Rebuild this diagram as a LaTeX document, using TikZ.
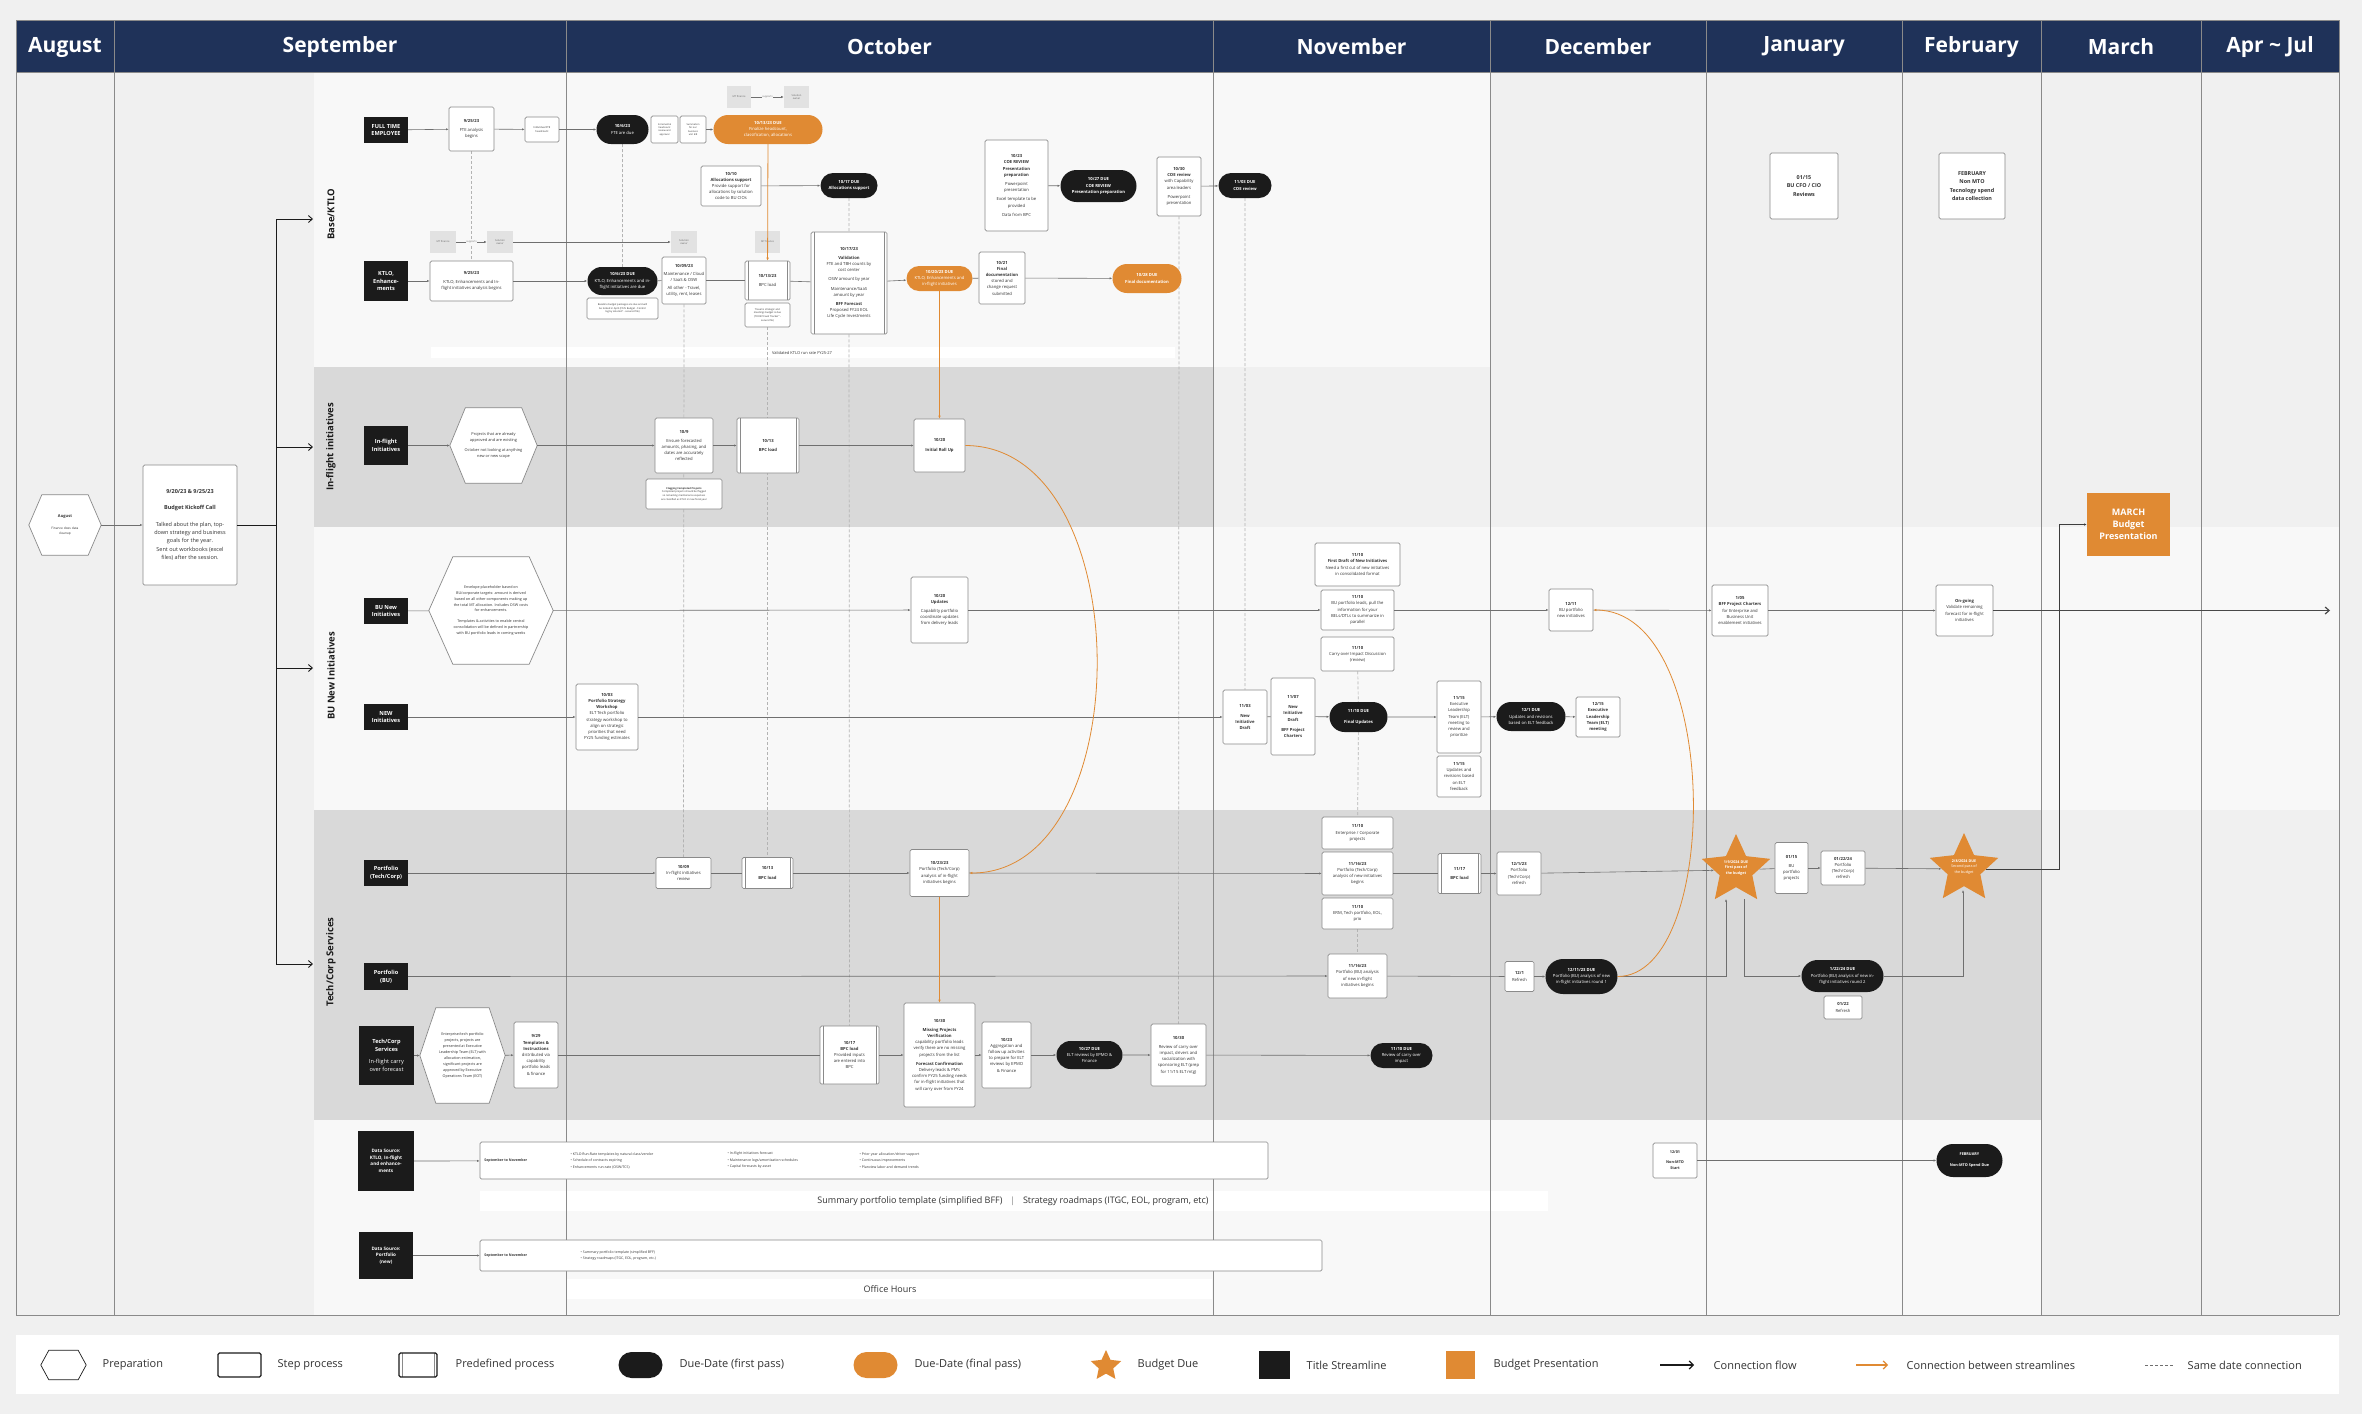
\documentclass[tikz,border=0pt]{standalone}
\usepackage{fontspec}
\setmainfont{Open Sans}
\setsansfont{Open Sans}
\usepackage{tikz}
\usetikzlibrary{arrows.meta,positioning,shapes.geometric,shapes.misc,calc,backgrounds}
\definecolor{navy}{HTML}{1F3259}
\definecolor{ink}{HTML}{1B1B1B}
\definecolor{amber}{HTML}{E08A33}
\definecolor{lineg}{HTML}{6F6F6F}
\definecolor{dashg}{HTML}{B3B3B3}
\definecolor{bgpage}{HTML}{F0F0F0}
\definecolor{bandlt}{HTML}{F8F8F8}
\definecolor{banddk}{HTML}{D9D9D9}
\definecolor{boxline}{HTML}{8A8A8A}
\definecolor{tagfill}{HTML}{E2E2E2}
\definecolor{txt}{HTML}{333333}
\pgfdeclarelayer{behind}
\pgfsetlayers{background,behind,main}
% hexagon round a named node: node name, chamfer
\newcommand\prephex[3][boxline]{%
  \draw[#1, line width=0.7pt, fill=white] (#2.west) -- ([xshift=#3]#2.north west)
    -- ([xshift=-#3]#2.north east) -- (#2.east) -- ([xshift=-#3]#2.south east)
    -- ([xshift=#3]#2.south west) -- cycle;}

\begin{document}
\begin{tikzpicture}[x=1pt, y=-1pt,
  every node/.style={inner sep=0.5pt, text=txt},
  wh/.style 2 args={minimum width=#1, minimum height=#2},
  bodyfont/.style={font=\fontsize{4.2}{6.2}\selectfont},
  stepbox/.style={rectangle, rounded corners=1.5pt, draw=boxline, line width=0.7pt,
    fill=white, align=center, bodyfont},
  predef/.style={stepbox, path picture={
    \draw[boxline, line width=0.6pt]
      ([xshift=3pt]path picture bounding box.north west) -- ([xshift=3pt]path picture bounding box.south west)
      ([xshift=-3pt]path picture bounding box.north east) -- ([xshift=-3pt]path picture bounding box.south east);}},
  notebox/.style={stepbox, font=\fontsize{2.5}{3.6}\selectfont},
  duepill/.style={rounded rectangle, fill=ink, text=white, align=center, bodyfont},
  finalpill/.style={rounded rectangle, fill=amber, text=white, align=center, bodyfont},
  titlebox/.style={rectangle, fill=ink, text=white, align=center,
    font=\bfseries\fontsize{5.6}{7.6}\selectfont},
  tagbox/.style={rectangle, fill=tagfill, text=txt!75, align=center,
    font=\fontsize{2.5}{3.6}\selectfont},
  prep/.style={rectangle, align=center, font=\fontsize{3.9}{6}\selectfont},
  budgetstar/.style={star, star points=5, star point ratio=2.1, fill=amber, inner sep=0pt},
  startext/.style={text=white, align=center, font=\bfseries\fontsize{3.7}{5.4}\selectfont},
  budgetbox/.style={rectangle, fill=amber, text=white, align=center,
    font=\bfseries\fontsize{9}{12}\selectfont},
  monthhdr/.style={text=white, font=\bfseries\fontsize{21}{24}\selectfont},
  lanelbl/.style={text=ink, font=\bfseries\fontsize{9.5}{11}\selectfont},
  supp/.style={fill=bandlt, text=txt!70, font=\fontsize{2.5}{3}\selectfont, inner sep=0.5pt},
  strip/.style={fill=white, font=\fontsize{9}{11}\selectfont},
  dslist/.style={align=left, font=\fontsize{3.5}{6.5}\selectfont},
  lgtext/.style={anchor=west, font=\fontsize{11}{13}\selectfont},
  colline/.style={draw=boxline, line width=0.8pt},
  flow/.style={draw=lineg, line width=0.6pt, -{Latex[length=2.6pt,width=2.2pt]}},
  link/.style={draw=lineg, line width=0.6pt},
  branch/.style={draw=ink, line width=0.9pt, -{Straight Barb[length=4pt,width=7pt]}},
  xlink/.style={draw=amber, line width=0.8pt, -{Latex[length=3pt,width=2.6pt]}},
  samedate/.style={draw=dashg, line width=0.7pt, dash pattern=on 3pt off 2pt},
]
\useasboundingbox (0,0) rectangle (2362,1414);

% lanes, month columns, legend panel
\begin{pgfonlayer}{background}
\fill[bgpage] (0,0) rectangle (2362,1414);
\fill[bandlt] (314,72) rectangle (1490,367);
\fill[banddk] (314,367) rectangle (1213,527);
\fill[bandlt] (314,527) rectangle (2339,810);
\fill[banddk] (314,810) rectangle (2041,1120);
\fill[bandlt] (314,1120) rectangle (2041,1315);
\fill[navy] (16,20) rectangle (2339,72);
\fill[white] (431,347) rectangle (1175,358);
\fill[white] (480,1191) rectangle (1548,1211);
\fill[white] (567,1279) rectangle (1212,1299);
\foreach \x in {16,114,566,1213,1490,1706,1902,2041,2201,2339}
  \draw[colline] (\x,20) -- (\x,1315);
\draw[colline] (16,20) -- (2339,20) (16,72) -- (2339,72) (16,1315) -- (2339,1315);
\fill[white] (16,1335) rectangle (2339,1394);
\end{pgfonlayer}

\foreach \x/\m [count=\i] in {65/August, 340/September, 889.5/October, 1351.5/November,
  1598/December, 1804/January, 1971.5/February, 2121/March, 2270/Apr \textasciitilde\ Jul}
  \node[monthhdr] (month\i) at (\x,47) {\m};

\node[lanelbl, rotate=90] (laneKTLO) at (331,214) {Base/KTLO};
\node[lanelbl, rotate=90] (laneIF) at (331,447) {In-flight initiatives};
\node[lanelbl, rotate=90] (laneBU) at (331,676) {BU New Initiatives};
\node[lanelbl, rotate=90] (laneTC) at (331,962) {Tech/Corp Services};

% kickoff
\node[prep, wh={72}{60}, font=\fontsize{3.2}{5.6}\selectfont] (aug) at (65,525) {\textbf{\fontsize{4}{5}\selectfont August}\\[6pt]Finance does data\\cleanup};
\node[stepbox, wh={94}{120}, font=\fontsize{5.5}{8.4}\selectfont] (kickoff) at (190,525)
  {\textbf{9/20/23 \& 9/25/23}\\[8pt]\textbf{Budget Kickoff Call}\\[8pt]Talked about the plan, top-\\down strategy and business\\goals for the year.\\Sent out workbooks (excel\\files) after the session.};
\coordinate (fork) at (276,525);
\coordinate (toKTLO) at (313,219);
\coordinate (toIF) at (313,447);
\coordinate (toBU) at (313,668);
\coordinate (toTC) at (313,964);

% FTE row
\node[titlebox, wh={44}{26}] (fte0) at (386,130) {FULL TIME\\EMPLOYEE};
\node[stepbox, wh={45}{44}] (fte1) at (471.5,129) {\textbf{9/25/23}\\[3pt]FTE analysis\\begins};
\node[stepbox, wh={34}{25}, font=\fontsize{2.6}{3.6}\selectfont] (fte2) at (542,129.5) {Individual FTE\\headcount};
\node[duepill, wh={53}{29}] (fte3) at (622.5,129.5) {\textbf{10/6/23}\\FTE are due};
\node[stepbox, wh={27}{27}, font=\fontsize{2.4}{3.4}\selectfont] (fte4) at (664.5,129.5) {Incremental\\headcount\\review and\\approval};
\node[stepbox, wh={26}{27}, font=\fontsize{2.4}{3.4}\selectfont] (fte5) at (693,129.5) {Summation\\for our\\business\\unit EIR};
\node[finalpill, wh={110}{29}] (fte6) at (768,129.5) {\textbf{10/13/23 DUE}\\Finalize headcount,\\classification, allocations};
\node[tagbox, wh={24}{22}] (mtf1) at (739,97) {MT finance};
\node[tagbox, wh={25}{22}] (sol1) at (796.5,97) {Solution\\owner};
\node[stepbox, wh={60}{40}] (alloc) at (731,186) {\textbf{10/10}\\\textbf{Allocations support}\\Provide support for\\allocations by solution\\code to BU CIOs};
\node[duepill, wh={58}{25}] (allocdue) at (849,185.5) {\textbf{10/17 DUE}\\\textbf{Allocations support}};
\node[stepbox, wh={63}{91}] (coe1) at (1016.5,185.5) {\textbf{10/23}\\\textbf{COE REVIEW}\\\textbf{Presentation}\\\textbf{preparation}\\[3pt]Powerpoint\\presentation\\[3pt]Excel template to be\\provided\\[3pt]Data from BPC};
\node[duepill, wh={77}{32}] (coedue) at (1098.5,186) {\textbf{10/27 DUE}\\\textbf{COE REVIEW}\\\textbf{Presentation preparation}};
\node[stepbox, wh={44}{59}] (coe2) at (1179,186.5) {\textbf{10/30}\\\textbf{COE review}\\with Capability\\area leaders\\[3pt]Powerpoint\\presentation};
\node[duepill, wh={54}{25}] (coe3) at (1245,185.5) {\textbf{11/03 DUE}\\\textbf{COE review}};

% KTLO row
\node[titlebox, wh={44}{40}] (kt0) at (386,281) {KTLO,\\Enhance-\\ments};
\node[tagbox, wh={26}{22}] (mtf2) at (443,242) {MT finance};
\node[tagbox, wh={26}{22}] (sol2) at (500,242) {Solution\\owner};
\node[tagbox, wh={26}{22}] (sol3) at (684,242) {Solution\\owner};
\node[tagbox, wh={25}{22}] (mtf3) at (767.5,242) {MT finance};
\node[stepbox, wh={83}{40}] (kt1) at (471.5,281) {\textbf{9/25/23}\\[3pt]KTLO, Enhancements and In-\\flight initiatives analysis begins};
\node[duepill, wh={71}{28}] (kt2) at (622.5,281) {\textbf{10/6/23 DUE}\\KTLO, Enhancements and in-\\flight initiatives are due};
\node[notebox, wh={71}{21}] (kt2n) at (622.5,308.5) {Baseline budget packages are due and will\\be locked in April (FY25 Budget - Control\\log by solution" - secured file)};
\node[stepbox, wh={44}{47}] (kt3) at (684,280.5) {\textbf{10/09/23}\\[2pt]Maintenance / Cloud\\/ SaaS \& OSW\\[2pt]All other - Travel,\\utility, rent, leases};
\node[predef, wh={45}{39}] (kt4) at (767.5,280.5) {\textbf{10/13/23}\\[3pt]BPC load};
\node[notebox, wh={45}{24}] (kt4n) at (767.5,315) {Travel is strategic and\\meetings budget is due\\(TOOB Travel Tracker" -\\secure file)};
\node[predef, wh={76}{102}] (kt5) at (849,283) {\textbf{10/17/23}\\[3pt]\textbf{Validation}\\FTE and TBH counts by\\cost center\\[3pt]OSW amount by year\\[3pt]Maintenance/SaaS\\amount by year\\[3pt]\textbf{BFF Forecast}\\Proposed FY24 EOL\\Life Cycle Investments};
\node[finalpill, wh={67}{25}] (kt6) at (939.5,278.5) {\textbf{10/20/23 DUE}\\KTLO, Enhancements and\\in-flight initiatives};
\node[stepbox, wh={46}{52}] (kt7) at (1002,278) {\textbf{10/21}\\\textbf{Final}\\\textbf{documentation}\\stored and\\change request\\submitted};
\node[finalpill, wh={70}{29}] (kt8) at (1147,278.5) {\textbf{10/28 DUE}\\\textbf{Final documentation}};
\node[font=\fontsize{4}{5}\selectfont] (ktlorate) at (802,352.5) {Validated KTLO run rate FY25-27};

% in-flight row
\node[titlebox, wh={44}{39}] (if0) at (386,445.5) {In-flight\\Initiatives};
\node[prep, wh={87}{75}] (if1) at (493.5,445.5) {Projects that are already\\approved and are existing\\[4pt]October not looking at anything\\new or new scope};
\node[stepbox, wh={58}{55}] (if2) at (684,445.5) {\textbf{10/9}\\[3pt]Ensure forecasted\\amounts, phasing, and\\dates are accurately\\reflected};
\node[notebox, wh={76}{30}] (if2n) at (684,494) {\textbf{Flagging Completed Projects}\\Completed projects should be flagged\\so remaining maintenance expenses\\are classified as KTLO in new fiscal year};
\node[predef, wh={62}{55}] (if3) at (768,445.5) {\textbf{10/13}\\[3pt]\textbf{BPC load}};
\node[stepbox, wh={51}{53}] (if4) at (939.5,445.5) {\textbf{10/20}\\[3pt]\textbf{Initial Roll Up}};

% BU new row
\node[titlebox, wh={44}{26}] (bu0) at (386,611) {BU New\\Initiatives};
\node[prep, wh={124}{107}, font=\fontsize{3.7}{5.9}\selectfont] (bu1) at (491,610.5) {Envelope placeholder based on\\BU/corporate targets: amount is derived\\based on all other components making up\\the total MT allocation. Includes OSW costs\\for enhancements.\\[5pt]Templates \& activities to enable central\\consolidation will be defined in partnership\\with BU portfolio leads in coming weeks};
\node[stepbox, wh={57}{66}] (bu2) at (939.5,610) {\textbf{10/20}\\\textbf{Updates}\\[3pt]Capability portfolio\\coordinate updates\\from delivery leads};
\node[stepbox, wh={85}{43}] (bu3a) at (1357.5,564.5) {\textbf{11/10}\\\textbf{First Draft of New Initiatives}\\Need a first cut of new initiatives\\in consolidated format};
\node[stepbox, wh={73}{40}] (bu3) at (1357.5,610) {\textbf{11/10}\\BU portfolio leads, pull the\\information for your\\BELs/DTLs to summarize in\\parallel};
\node[stepbox, wh={73}{34}] (bu3b) at (1357.5,654) {\textbf{11/10}\\Carry over Impact Discussion\\(review)};
\node[stepbox, wh={44}{42}] (bu4) at (1571,610) {\textbf{12/11}\\BU portfolio\\new initiatives};
\node[stepbox, wh={56}{51}] (bu5) at (1740,610.5) {\textbf{1/05}\\\textbf{BFF Project Charters}\\for Enterprise and\\Business Unit\\enablement initiatives};
\node[stepbox, wh={57}{51}] (bu6) at (1964.5,610.5) {\textbf{On-going}\\Validate remaining\\forecast for in-flight\\initiatives};
\coordinate (buend) at (2330,610.5);
\node[stepbox, wh={68}{66}, font=\bfseries\fontsize{5.4}{8.4}\selectfont] (cfo) at (1804,186) {01/15\\BU CFO / CIO\\Reviews};
\node[stepbox, wh={66}{66}, font=\bfseries\fontsize{5.4}{8.4}\selectfont] (nonmto) at (1972,186) {FEBRUARY\\Non MTO\\Tecnology spend\\data collection};
\node[budgetbox, wh={83}{63}] (march) at (2128.5,524.5) {MARCH\\Budget\\Presentation};

% NEW row
\node[titlebox, wh={44}{26}] (nw0) at (386,717) {NEW\\Initiatives};
\node[stepbox, wh={62}{66}] (nw1) at (607,717) {\textbf{10/03}\\\textbf{Portfolio Strategy}\\\textbf{Workshop}\\ELT Tech portfolio\\strategy workshop to\\align on strategic\\priorities that need\\FY25 funding estimates};
\node[stepbox, wh={44}{54}] (nw2) at (1245,717) {\textbf{11/03}\\[4pt]\textbf{New}\\\textbf{Initiative}\\\textbf{Draft}};
\node[stepbox, wh={44}{77}] (nw3) at (1293,716.5) {\textbf{11/07}\\[4pt]\textbf{New}\\\textbf{Initiative}\\\textbf{Draft}\\[4pt]\textbf{BFF Project}\\\textbf{Charters}};
\node[duepill, wh={59}{30}] (nw4) at (1358.5,717) {\textbf{11/10 DUE}\\[4pt]\textbf{Final Updates}};
\node[stepbox, wh={44}{72}] (nw5) at (1459,717) {\textbf{11/15}\\Executive\\Leadership\\Team (ELT)\\meeting to\\review and\\prioritize};
\node[stepbox, wh={44}{41}] (nw5b) at (1459,776.5) {\textbf{11/15}\\Updates and\\revisions based\\on ELT\\feedback};
\node[duepill, wh={70}{29}] (nw6) at (1531,716.5) {\textbf{12/1 DUE}\\Updates and revisions\\based on ELT feedback};
\node[stepbox, wh={44}{40}] (nw7) at (1598,717) {\textbf{12/15}\\\textbf{Executive}\\\textbf{Leadership}\\\textbf{Team (ELT)}\\\textbf{meeting}};

% portfolio tech/corp row
\node[titlebox, wh={44}{26}] (pt0) at (386,873) {Portfolio\\(Tech/Corp)};
\node[stepbox, wh={55}{31}] (pt1) at (683.5,873) {\textbf{10/09}\\In-flight initiatives\\review};
\node[predef, wh={51}{31}] (pt2) at (767.5,873) {\textbf{10/13}\\[3pt]\textbf{BPC load}};
\node[stepbox, wh={59}{47}] (pt3) at (939.5,873) {\textbf{10/23/23}\\Portfolio (Tech/Corp)\\analysis of in-flight\\initiatives begins};
\node[stepbox, wh={71}{32}] (pt4a) at (1357.5,833) {\textbf{11/10}\\Enterprise / Corporate\\projects};
\node[stepbox, wh={71}{43}] (pt4) at (1357.5,873.5) {\textbf{11/16/23}\\Portfolio (Tech/Corp)\\analysis of new initiatives\\begins};
\node[stepbox, wh={71}{31}] (pt4b) at (1357.5,913.5) {\textbf{11/10}\\ERM, Tech portfolio, EOL,\\prio};
\node[predef, wh={43}{40}] (pt5) at (1459.5,873.5) {\textbf{11/17}\\[3pt]\textbf{BPC load}};
\node[stepbox, wh={44}{43}] (pt6) at (1519,873.5) {\textbf{12/1/23}\\Portfolio\\(Tech/Corp)\\refresh};
\node[budgetstar, minimum size=72] (star1) at (1736,870) {};
\node[startext] (star1txt) at (1736,868) {1/9/2024 DUE\\First pass of\\the budget};
\node[stepbox, wh={33}{51}] (pt7) at (1791.5,868) {\textbf{01/15}\\[3pt]BU\\portfolio\\projects};
\node[stepbox, wh={44}{34}] (pt8) at (1843,868) {\textbf{01/22/24}\\Portfolio\\(Tech/Corp)\\refresh};
\node[budgetstar, minimum size=72] (star2) at (1964,869) {};
\node[startext] (star2txt) at (1964,867) {2/8/2024 DUE\\\mdseries Second pass of\\\mdseries the budget};
\coordinate (s1in) at (1726,899);
\coordinate (s1out) at (1744,899);
\coordinate (s2in) at (1963,890);

% portfolio BU row
\node[titlebox, wh={44}{27}] (pb0) at (386,976.5) {Portfolio\\(BU)};
\node[stepbox, wh={59}{44}] (pb1) at (1357.5,976) {\textbf{11/16/23}\\Portfolio (BU) analysis\\of new in-flight\\initiatives begins};
\node[stepbox, wh={29}{30}] (pb2) at (1519.5,976.5) {\textbf{12/1}\\Refresh};
\node[duepill, wh={73}{35}] (pb3) at (1581.5,976.5) {\textbf{12/11/23 DUE}\\Portfolio (BU) analysis of new\\in-flight initiatives round 1};
\node[duepill, wh={83}{32}] (pb4) at (1842.5,976) {\textbf{1/22/24 DUE}\\Portfolio (BU) analysis of new in-\\flight initiatives round 2};
\node[stepbox, wh={38}{23}] (pb4n) at (1843,1007.5) {\textbf{01/22}\\Refresh};

% tech/corp services row
\node[titlebox, wh={55}{59}] (tc0) at (386.5,1055.5) {Tech/Corp\\Services\\[5pt]\mdseries In-flight carry\\\mdseries over forecast};
\node[prep, wh={85}{95}, font=\fontsize{3.7}{6}\selectfont] (tc1) at (462.5,1055.5) {Enterprise/tech portfolio\\projects, projects are\\presented at Executive\\Leadership Team (ELT) with\\allocation estimation,\\significant projects are\\approved by Executive\\Operations Team (EOT)};
\node[stepbox, wh={44}{66}] (tc2) at (536,1055) {\textbf{9/29}\\\textbf{Templates \&}\\\textbf{Instructions}\\distributed via\\capability\\portfolio leads\\\& finance};
\node[predef, wh={59}{58}] (tc3) at (849.5,1055) {\textbf{10/17}\\\textbf{BPC load}\\Provided inputs\\are entered into\\BPC};
\node[stepbox, wh={71}{104}] (tc4) at (939.5,1055) {\textbf{10/30}\\[3pt]\textbf{Missing Projects}\\\textbf{Verification}\\capability portfolio leads\\verify there are no missing\\projects from the list\\[3pt]\textbf{Forecast Confirmation}\\Delivery leads \& PM's\\confirm FY25 funding needs\\for in-flight initiatives that\\will carry over from FY24};
\node[stepbox, wh={49}{66}] (tc5) at (1006.5,1055) {\textbf{10/23}\\Aggregation and\\follow up activities\\to prepare for ELT\\reviews by EPMO\\\& Finance};
\node[duepill, wh={67}{28}] (tc6) at (1089.5,1055) {\textbf{10/27 DUE}\\ELT reviews by EPMO \&\\Finance};
\node[stepbox, wh={55}{62}] (tc7) at (1178.5,1055) {\textbf{10/30}\\[3pt]Review of carry over\\impact, drivers and\\socialization with\\sponsoring ELT (prep\\for 11/15 ELT mtg)};
\node[duepill, wh={63}{25}] (tc8) at (1401.5,1055.5) {\textbf{11/10 DUE}\\Review of carry over\\impact};

% data sources
\node[titlebox, wh={56}{60}, font=\bfseries\fontsize{4.6}{6.6}\selectfont] (ds0) at (386,1161) {Data Source:\\KTLO, In-flight\\and enhance-\\ments};
\node[stepbox, wh={788}{37}] (ds1) at (874,1160.5) {};
\node[dslist, anchor=west, font=\bfseries\fontsize{3.5}{5}\selectfont] (ds1t) at ([xshift=4]ds1.west) {September to November};
\node[dslist, anchor=west] (ds1a) at (570,1160.5) {• KTLO Run-Rate templates by natural class/vendor\\• Schedule of contracts expiring\\• Enhancements run-rate (OSW/TCS)};
\node[dslist, anchor=west] (ds1b) at (727,1160.5) {• In-flight initiatives forecast\\• Maintenance logs/amortization schedules\\• Capital forecasts by asset};
\node[dslist, anchor=west] (ds1c) at (859,1160.5) {• Prior year allocation/driver support\\• Continuous improvements\\• Planview labor and demand trends};
\node[strip] (roadmaps) at (1013,1201) {Summary portfolio template (simplified BFF)\quad$|$\quad Strategy roadmaps (ITGC, EOL, program, etc)};
\node[stepbox, wh={44}{35}, font=\bfseries\fontsize{3.8}{6}\selectfont] (ds2) at (1675,1160.5) {12/01\\[4pt]Non-MTO\\Start};
\node[duepill, wh={67}{33}, font=\bfseries\fontsize{3.8}{6}\selectfont] (ds3) at (1969.5,1160.5) {FEBRUARY\\[5pt]Non-MTO Spend Due};
\node[titlebox, wh={54}{47}, font=\bfseries\fontsize{4.6}{6.6}\selectfont] (ds4) at (386,1255.5) {Data Source:\\Portfolio\\(new)};
\node[stepbox, wh={842}{31}] (ds5) at (901,1255.5) {};
\node[dslist, anchor=west, font=\bfseries\fontsize{3.5}{5}\selectfont] (ds5t) at ([xshift=4]ds5.west) {September to November};
\node[dslist, anchor=west] (ds5a) at (580,1255.5) {• Summary portfolio template (simplified BFF)\\• Strategy roadmaps (ITGC, EOL, program, etc.)};
\node[strip] (office) at (890,1289) {Office Hours};

% hexagons and same-date links behind the boxes
\begin{pgfonlayer}{behind}
\prephex{aug}{13}
\prephex{if1}{15.5}
\prephex{bu1}{24}
\prephex{tc1}{16}
\draw[samedate] (fte1) -- (kt1);
\draw[samedate] (fte3) -- (kt2);
\draw[samedate] (allocdue) -- (kt5);
\draw[samedate] (kt3) -- (pt1);
\draw[samedate] (kt4n) -- (pt2);
\draw[samedate] (kt5) -- (tc3);
\draw[samedate] (coe2) -- (tc7);
\draw[samedate] (coe3) -- (nw2);
\draw[samedate] (bu3b) -- (nw4);
\draw[samedate] (nw4) -- (pt4a);
\draw[samedate] (pt4b) -- (pb1);
\end{pgfonlayer}

% kickoff fan-out
\draw[flow, line width=0.8pt] (aug) -- (kickoff);
\draw[draw=ink, line width=0.9pt] (kickoff) -- (fork);
\draw[branch] (fork) |- (toKTLO);
\draw[branch] (fork) |- (toIF);
\draw[branch] (fork) |- (toBU);
\draw[branch] (fork) |- (toTC);

% flows inside the streamlines
\draw[flow] (fte0) -- (fte1);
\draw[flow] (fte1) -- (fte2);
\draw[flow] (fte2) -- (fte3);
\draw[flow] (fte5) -- (fte6);
\draw[flow] (mtf1) -- node[supp]{supports} (sol1);
\draw[flow] (alloc) -- (allocdue);
\draw[flow] (coe1) -- (coedue);
\draw[flow] (coe2) -- (coe3);
\draw[flow] (kt0) -- (kt1);
\draw[flow] (kt1) -- (kt2);
\draw[link] (kt2) -- (kt3);
\draw[link] (kt3) -- (kt4);
\draw[link] (kt4) -- (kt5);
\draw[flow] (kt5) -- (kt6);
\draw[link] (kt6) -- (kt7);
\draw[flow] (kt7) -- (kt8);
\draw[flow] (mtf2) -- node[supp]{supports} (sol2);
\draw[flow] (sol2) -- (sol3);
\draw[flow] (if0) -- (if1);
\draw[flow] (if1) -- (if2);
\draw[flow] (if2) -- (if3);
\draw[flow] (if3) -- (if4);
\draw[link] (bu0) -- (bu1);
\draw[flow] (bu1) -- (bu2);
\draw[flow] (bu2) -- (bu3);
\draw[flow] (bu3) -- (bu4);
\draw[flow] (bu4) -- (bu5);
\draw[flow] (bu5) -- (bu6);
\draw[draw=ink!80, line width=1.2pt, -{Straight Barb[length=4pt,width=7pt]}] (bu6) -- (buend);
\draw[flow] (nw0) -- (nw1);
\draw[flow] (nw1) -- (nw2);
\draw[link] (nw2) -- (nw3);
\draw[flow] (nw3) -- (nw4);
\draw[flow] (nw4) -- (nw5);
\draw[flow] (nw5) -- (nw6);
\draw[flow] (nw6) -- (nw7);
\draw[flow] (pt0) -- (pt1);
\draw[link] (pt1) -- (pt2);
\draw[flow] (pt2) -- (pt3);
\draw[flow] (pt3) -- (pt4);
\draw[link] (pt4) -- (pt5);
\draw[flow] (pt5) -- (pt6);
\draw[flow] (pt6) -- (star1);
\draw[link] (star1) -- (pt7);
\draw[flow] (pt7) -- (pt8);
\draw[flow] (pt8) -- (star2);
\draw[flow, draw=ink!85, line width=0.9pt] (star2.east) -- ++(73,0) |- (march.west);
\draw[flow] (pb0) -- (pb1);
\draw[link] (pb1) -- (pb2);
\draw[flow] (pb2) -- (pb3);
\draw[flow] (pb3.east) -| (s1in);
\draw[flow] (s1out) |- (pb4.west);
\draw[flow] (pb4.east) -| (s2in);
\draw[flow] (tc0) -- (tc1);
\draw[flow] (tc1) -- (tc2);
\draw[link] (tc2) -- (tc3);
\draw[flow] (tc3) -- (tc4);
\draw[flow] (tc4) -- (tc5);
\draw[flow] (tc5) -- (tc6);
\draw[flow] (tc6) -- (tc7);
\draw[flow] (tc7) -- (tc8);
\draw[flow] (ds0) -- (ds1);
\draw[flow] (ds2) -- (ds3);
\draw[flow] (ds4) -- (ds5);

% connections between streamlines
\draw[xlink] (fte6) -- (kt4);
\draw[xlink] (kt6) -- (if4);
\draw[xlink] (if4.east) .. controls (1140,446) and (1140,873) .. (pt3.east);
\draw[xlink] (pt3) -- (tc4);
\draw[xlink] (pb3.east) .. controls (1722,976) and (1722,610) .. (bu4.east);

% legend
\node[prep, wh={45}{29}] (lgPrep) at (63.5,1365) {};
\prephex[ink]{lgPrep}{8}
\node[lgtext] (lgPrepT) at (102,1365) {Preparation};
\node[stepbox, draw=ink, line width=1.3pt, wh={43}{24}] (lgStep) at (239.5,1365) {};
\node[lgtext] (lgStepT) at (277,1365) {Step process};
\node[predef, draw=ink, line width=1.3pt, wh={38}{24}] (lgPre) at (418,1365) {};
\node[lgtext] (lgPreT) at (455,1365) {Predefined process};
\node[duepill, wh={45}{26}] (lgDue) at (640.5,1365) {};
\node[lgtext] (lgDueT) at (679,1365) {Due-Date (first pass)};
\node[finalpill, wh={45}{26}] (lgFin) at (875.5,1365) {};
\node[lgtext] (lgFinT) at (914,1365) {Due-Date (final pass)};
\node[budgetstar, minimum size=32] (lgStar) at (1106,1366) {};
\node[lgtext] (lgStarT) at (1137,1365) {Budget Due};
\node[titlebox, wh={31}{28}] (lgTitle) at (1274.5,1365) {};
\node[lgtext] (lgTitleT) at (1306,1365) {Title Streamline};
\node[budgetbox, wh={29}{28}] (lgBudget) at (1460.5,1365) {};
\node[lgtext] (lgBudgetT) at (1493,1365) {Budget Presentation};
\coordinate (lgF1) at (1660,1365);
\coordinate (lgF2) at (1694,1365);
\draw[draw=ink, line width=1.2pt, -{Straight Barb[length=4pt,width=8pt]}] (lgF1) -- (lgF2);
\node[lgtext] (lgFlowT) at (1713,1365) {Connection flow};
\coordinate (lgX1) at (1856,1365);
\coordinate (lgX2) at (1888,1365);
\draw[draw=amber, line width=1.2pt, -{Straight Barb[length=4pt,width=8pt]}] (lgX1) -- (lgX2);
\node[lgtext] (lgXT) at (1906,1365) {Connection between streamlines};
\coordinate (lgD1) at (2145,1365);
\coordinate (lgD2) at (2173,1365);
\draw[samedate, draw=lineg, line width=1pt] (lgD1) -- (lgD2);
\node[lgtext] (lgDashT) at (2187,1365) {Same date connection};
\end{tikzpicture}
\end{document}
